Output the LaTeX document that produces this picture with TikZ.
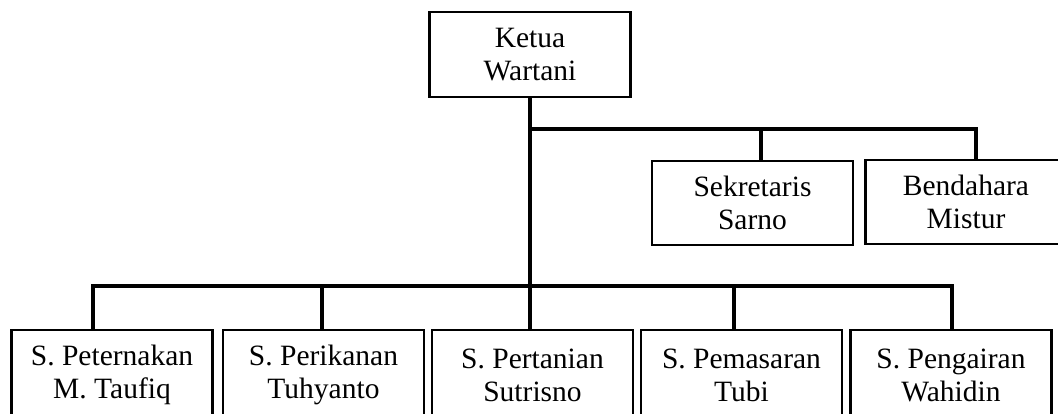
\documentclass[tikz,border=0pt]{standalone}
\usepackage{fontspec}
\setmainfont{Liberation Serif}
\begin{document}
\begin{tikzpicture}[x=1pt,y=-1pt,
  jabatan/.style={draw,line width=2.2pt,minimum width=201pt,minimum height=84pt,
    inner sep=0pt,align=center,font=\fontsize{29.5}{33}\selectfont},
  garis/.style={line width=4pt}]
\useasboundingbox (0,0) rectangle (1058,413);
% pengurus inti
\node[jabatan,minimum height=85pt] (ketua) at (530,54.5) {Ketua\\Wartani};
\node[jabatan] (sek) at (752.5,203) {Sekretaris\\Sarno};
\node[jabatan] (bend) at (966,202) {Bendahara\\Mistur};
% seksi-seksi
\node[jabatan,minimum height=90pt] (pet) at (112,375) {S. Peternakan\\M. Taufiq};
\node[jabatan,minimum height=90pt] (per) at (323.5,375) {S. Perikanan\\Tuhyanto};
\node[jabatan,minimum height=90pt] (tan) at (532.5,375) {S. Pertanian\\Sutrisno};
\node[jabatan,minimum height=90pt] (pem) at (741.5,375) {S. Pemasaran\\Tubi};
\node[jabatan,minimum height=90pt] (air) at (951,375) {S. Pengairan\\Wahidin};
% garis komando
\coordinate (atas) at (530,129);
\coordinate (bawah) at (530,286);
\draw[garis] (ketua.south) -- ([xshift=-2.5pt]tan.north);
\draw[garis] (atas) -| ([xshift=10pt]bend.north);
\draw[garis] ([xshift=8.5pt]sek.north) -- ([xshift=8.5pt]sek.north |- atas);
\draw[garis] ([xshift=-19pt]pet.north) |- (bawah) -| ([xshift=1pt]air.north);
\foreach \n/\dx in {per/-1.5,pem/-7.5}
  \draw[garis] ([xshift=\dx pt]\n.north) -- ([xshift=\dx pt]\n.north |- bawah);
\end{tikzpicture}
\end{document}
